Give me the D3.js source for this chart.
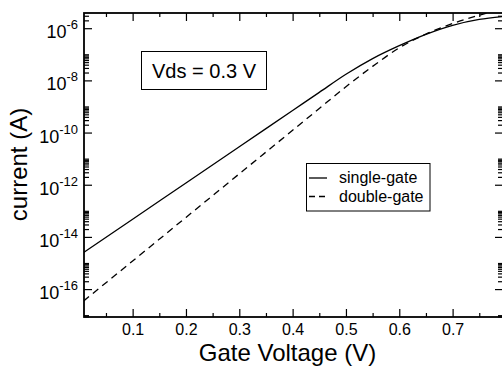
<!DOCTYPE html>
<html>
<head>
<meta charset="utf-8">
<script src="https://cdn.jsdelivr.net/npm/d3@7"></script>
<style>
  html, body { margin: 0; padding: 0; background: #fff; }
  svg { display: block; font-family: "Liberation Sans", Arial, sans-serif; }
</style>
</head>
<body>
<svg id="chart" width="502" height="367"></svg>
<script>
// gate voltage samples (V)
const gateV = [0.008, 0.1, 0.2, 0.3, 0.4, 0.45, 0.5, 0.55, 0.6, 0.65, 0.7, 0.75, 0.7945];
// drain current (A)
const singleGate = [2.51e-15, 4.73e-14, 1.17e-12, 2.87e-11, 7.01e-10, 3.47e-9, 1.71e-8, 6.84e-8, 2.14e-7, 5.82e-7, 1.29e-6, 2.16e-6, 2.82e-6];
const doubleGate = [3.49e-17, 1.19e-15, 5.60e-14, 2.62e-12, 1.22e-10, 8.37e-10, 5.73e-9, 3.45e-8, 1.77e-7, 6.00e-7, 1.51e-6, 3.15e-6, 5.47e-6];

const seriesNames = ["single-gate", "double-gate"];
const xMajor = [0.1, 0.2, 0.3, 0.4, 0.5, 0.6, 0.7];
const xLabels = ["0.1", "0.2", "0.3", "0.4", "0.5", "0.6", "0.7"];
const xMinor = [0.05, 0.15, 0.25, 0.35, 0.45, 0.55, 0.65, 0.75];
const yMajorExp = [-16, -14, -12, -10, -8, -6];
const yLabels = ["-16", "-14", "-12", "-10", "-8", "-6"];
const annotation = "Vds = 0.3 V";

const pLeft = 84, pRight = 503, pTop = 13, pBottom = 317;

const svg = d3.select("#chart");

const x = d3.scaleLinear().domain([0.0088, 0.7945]).range([pLeft, pRight]);
const y = d3.scaleLog().domain([Math.pow(10, -17.07), Math.pow(10, -5.417)]).range([pBottom, pTop]);

// minor log ticks: 2..10 x each labelled decade (and the one below)
const yMinor = [];
[-18].concat(yMajorExp).forEach(e => {
  for (let k = 2; k <= 10; k++) {
    const v = k * Math.pow(10, e);
    if (v >= y.domain()[0] && v <= y.domain()[1]) yMinor.push(v);
  }
});
const yMajor = yMajorExp.map(e => Math.pow(10, e));

function tickStyle(g) {
  g.select(".domain").remove();
  g.selectAll(".tick line").attr("stroke", "#000").attr("stroke-width", 1.2);
}

// bottom
svg.append("g").attr("transform", `translate(0,${pBottom})`)
  .call(d3.axisBottom(x).tickValues(xMajor).tickSize(-8).tickPadding(6.6)
    .tickFormat((d, i) => xLabels[i]))
  .call(tickStyle)
  .call(g => g.selectAll("text").attr("font-size", 16).attr("fill", "#000")
    .attr("font-family", "Liberation Sans, Arial, sans-serif"));
svg.append("g").attr("transform", `translate(0,${pBottom})`)
  .call(d3.axisBottom(x).tickValues(xMinor).tickSize(-4).tickFormat(""))
  .call(tickStyle);

// top
svg.append("g").attr("transform", `translate(0,${pTop})`)
  .call(d3.axisTop(x).tickValues(xMajor).tickSize(-8).tickFormat(""))
  .call(tickStyle);
svg.append("g").attr("transform", `translate(0,${pTop})`)
  .call(d3.axisTop(x).tickValues(xMinor).tickSize(-4).tickFormat(""))
  .call(tickStyle);

// left
svg.append("g").attr("transform", `translate(${pLeft},0)`)
  .call(d3.axisLeft(y).tickValues(yMajor).tickSize(-8).tickFormat(""))
  .call(tickStyle);
svg.append("g").attr("transform", `translate(${pLeft},0)`)
  .call(d3.axisLeft(y).tickValues(yMinor).tickSize(-5).tickFormat(""))
  .call(tickStyle);

// right
svg.append("g").attr("transform", `translate(${pRight},0)`)
  .call(d3.axisRight(y).tickValues(yMajor).tickSize(-8).tickFormat(""))
  .call(tickStyle);
svg.append("g").attr("transform", `translate(${pRight},0)`)
  .call(d3.axisRight(y).tickValues(yMinor).tickSize(-5).tickFormat(""))
  .call(tickStyle);

// y labels as 10^n
const yl = svg.append("g").selectAll("text").data(yMajorExp).join("text")
  .attr("x", 78)
  .attr("y", d => y(Math.pow(10, d)) + 10)
  .attr("text-anchor", "end")
  .attr("fill", "#000");
yl.append("tspan").attr("font-size", 18).text("10");
yl.append("tspan").attr("font-size", 13).attr("dy", -9).text((d, i) => yLabels[i]);

// frame
svg.append("rect")
  .attr("x", pLeft).attr("y", pTop)
  .attr("width", pRight - pLeft).attr("height", pBottom - pTop)
  .attr("fill", "none").attr("stroke", "#000").attr("stroke-width", 1.8);

// curves
svg.append("clipPath").attr("id", "clip").append("rect")
  .attr("x", pLeft).attr("y", pTop).attr("width", pRight - pLeft).attr("height", pBottom - pTop);

const line = d3.line().x(d => x(d[0])).y(d => y(d[1])).curve(d3.curveMonotoneX);
const plot = svg.append("g").attr("clip-path", "url(#clip)");

plot.append("path")
  .attr("d", line(gateV.map((v, i) => [v, singleGate[i]])))
  .attr("fill", "none").attr("stroke", "#000").attr("stroke-width", 1.3);
plot.append("path")
  .attr("d", line(gateV.map((v, i) => [v, doubleGate[i]])))
  .attr("fill", "none").attr("stroke", "#000").attr("stroke-width", 1.3)
  .attr("stroke-dasharray", "7,5");

// axis titles
svg.append("text")
  .attr("x", 287.5).attr("y", 360.5)
  .attr("text-anchor", "middle").attr("font-size", 24)
  .text("Gate Voltage (V)");
svg.append("text")
  .attr("transform", "translate(27,164.5) rotate(-90)")
  .attr("text-anchor", "middle").attr("font-size", 24)
  .text("current (A)");

// annotation box
svg.append("rect")
  .attr("x", 141.5).attr("y", 51.5).attr("width", 125).attr("height", 38)
  .attr("fill", "#fff").attr("stroke", "#000").attr("stroke-width", 1);
svg.append("text")
  .attr("x", 204).attr("y", 77.5)
  .attr("text-anchor", "middle").attr("font-size", 20)
  .text(annotation);

// legend
const lg = svg.append("g");
lg.append("rect")
  .attr("x", 306.5).attr("y", 163.5).attr("width", 123.5).attr("height", 47.5)
  .attr("fill", "#fff").attr("stroke", "#000").attr("stroke-width", 1);
const rows = lg.selectAll("g.row").data(seriesNames).join("g")
  .attr("class", "row")
  .attr("transform", (d, i) => `translate(0,${178 + i * 18.5})`);
rows.append("line")
  .attr("x1", 309).attr("x2", 327).attr("y1", 0).attr("y2", 0)
  .attr("stroke", "#000").attr("stroke-width", 1.3)
  .attr("stroke-dasharray", (d, i) => i ? "6,4" : null);
rows.append("text")
  .attr("x", 339).attr("y", 5)
  .attr("font-size", 16)
  .text(d => d);
</script>
</body>
</html>
